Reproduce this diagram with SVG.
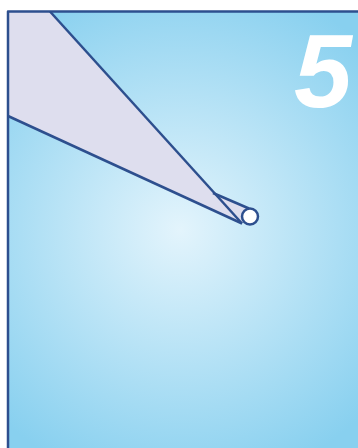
<svg xmlns="http://www.w3.org/2000/svg" width="358" height="448" viewBox="0 0 358 448">
<defs>
<radialGradient id="bg" cx="180" cy="230" r="260" gradientUnits="userSpaceOnUse">
<stop offset="0" stop-color="#e3f4fc"/>
<stop offset="1" stop-color="#88d0ef"/>
</radialGradient>
<style>
.ln{stroke:#2d4f8e;stroke-width:2.5;stroke-linejoin:round;fill:none}
.lav{fill:#dedeee}
</style>
</defs>
<rect width="358" height="448" fill="#ffffff"/>
<rect id="panel" x="8" y="11.5" width="352" height="440" fill="url(#bg)"/>
<g id="pointer">
<polygon class="lav" points="8,11.5 50,11.5 242,223.5 8,116"/>
<polygon class="lav" points="213,193 249,208.5 242,223.5"/>
<line class="ln" x1="50" y1="11.5" x2="242" y2="223.5"/>
<line class="ln" x1="8" y1="116" x2="242" y2="223.5"/>
<line class="ln" x1="213" y1="193" x2="249" y2="208.5"/>
<circle cx="250" cy="216.5" r="8" fill="#ffffff" stroke="#2d4f8e" stroke-width="2.5"/>
</g>
<g id="frame">
<path class="ln" d="M8,448 V11.5 H358"/>
</g>
<g id="number">
<text x="294" y="107" font-family="Liberation Sans, Arial, sans-serif" font-size="104" font-weight="bold" font-style="italic" fill="#ffffff">5</text>
</g>
</svg>
